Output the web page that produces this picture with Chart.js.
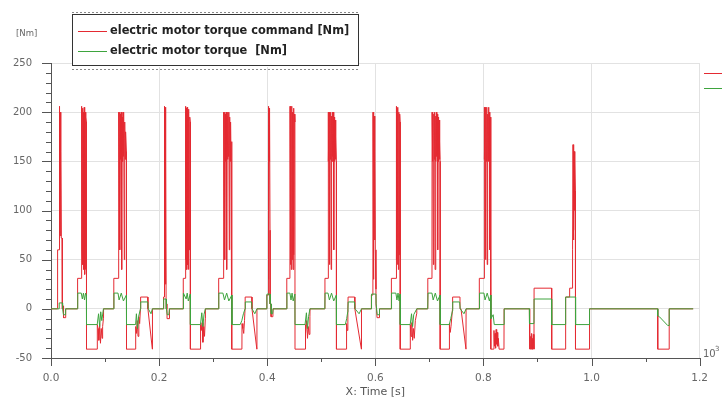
<!DOCTYPE html>
<html>
<head>
<meta charset="utf-8">
<script src="https://cdn.jsdelivr.net/npm/chart.js@4.4.0/dist/chart.umd.min.js"></script>
<style>
  html, body { margin: 0; padding: 0; background: #fff; }
  canvas { display: block; }
</style>
</head>
<body>
<canvas id="torque" width="722" height="405"></canvas>
<script>
// signal names and colours
const seriesNames = ['electric motor torque command [Nm]', 'electric motor torque  [Nm]'];
const seriesColors = ['rgb(228,42,50)', 'rgb(62,164,62)'];

// axis ranges
const timeRange = [0, 1.2];
const torqueRange = [-50, 250];

// [time s, torque Nm] : commanded torque
const cmdTrace = [
  [0,0],[0.012,0],[0.0122,60],[0.0148,60],[0.015,206],[0.0155,80],[0.016,204],[0.0166,75],[0.0172,200],
  [0.0178,74],[0.0184,160],[0.019,72],[0.0205,72],[0.021,0],[0.023,3],[0.0232,-9],[0.027,-9],[0.0272,0],
  [0.049,0],[0.0492,31],[0.0565,31],[0.0567,206],[0.0575,60],[0.0583,204],[0.0591,45],[0.0599,200],
  [0.0607,40],[0.0615,205],[0.0623,35],[0.0631,200],[0.0639,40],[0.0647,195],[0.0655,190],[0.0657,-41],
  [0.0855,-41],[0.0857,-16],[0.087,-20],[0.0885,-32],[0.09,-15],[0.0915,-35],[0.093,-20],[0.0945,-30],
  [0.0955,-18],[0.097,-10],[0.0972,0],
  [0.116,0],[0.1162,31],[0.125,31],[0.1252,200],[0.126,150],[0.1268,200],[0.1276,60],[0.1284,198],
  [0.1292,152],[0.13,200],[0.1308,40],[0.1316,195],[0.1324,150],[0.1332,200],[0.134,155],[0.1348,198],
  [0.1356,50],[0.1364,190],[0.1372,152],[0.138,180],[0.1395,160],[0.1397,-41],[0.1565,-41],[0.1567,-18],
  [0.158,-25],[0.1595,-12],[0.161,-28],[0.1625,-8],[0.164,-15],[0.1655,0],[0.1658,12],[0.179,12],
  [0.1793,0],[0.1875,-41],[0.1877,0],
  [0.208,0],[0.2082,12],[0.2095,12],[0.2097,206],[0.2103,20],[0.2109,205],[0.2115,25],[0.2121,200],
  [0.2127,150],[0.213,0],[0.2145,5],[0.2147,-10],[0.219,-10],[0.2192,0],
  [0.2445,0],[0.2447,31],[0.2485,31],[0.2487,206],[0.2495,50],[0.2503,204],[0.2511,40],[0.2519,205],
  [0.2527,45],[0.2535,200],[0.2543,40],[0.2551,203],[0.2559,60],[0.2567,195],[0.2577,190],[0.2579,-41],
  [0.2765,-41],[0.2767,-16],[0.278,-22],[0.2795,-14],[0.281,-34],[0.2825,-18],[0.284,-28],[0.2855,-10],
  [0.2857,0],
  [0.31,0],[0.3102,31],[0.3192,31],[0.3194,200],[0.3202,152],[0.321,200],[0.3218,50],[0.3226,198],
  [0.3234,150],[0.3242,200],[0.325,40],[0.3258,196],[0.3266,152],[0.3274,200],[0.3282,155],[0.329,200],
  [0.3298,60],[0.3306,195],[0.3314,150],[0.3322,190],[0.333,152],[0.3338,170],[0.3346,150],[0.3348,-41],
  [0.3532,-41],[0.3534,-15],[0.355,-20],[0.3565,-25],[0.358,-12],[0.359,0],[0.3592,12],[0.3716,12],
  [0.3718,0],[0.3808,-41],[0.381,0],
  [0.399,0],[0.3992,14],[0.402,14],[0.4022,206],[0.4028,30],[0.4034,204],[0.404,150],[0.4046,200],
  [0.4052,80],[0.4054,5],[0.407,5],[0.4072,-8],[0.4105,-8],[0.4107,0],
  [0.436,0],[0.4362,31],[0.442,31],[0.4422,206],[0.443,45],[0.4438,204],[0.4446,40],[0.4454,206],
  [0.4462,50],[0.447,200],[0.4478,40],[0.4486,204],[0.4494,55],[0.4502,198],[0.4512,190],[0.4514,-41],
  [0.47,-41],[0.4702,-16],[0.4715,-25],[0.473,-12],[0.4745,-30],[0.476,-18],[0.4775,-26],[0.479,-8],
  [0.4792,0],
  [0.5066,0],[0.5068,31],[0.5125,31],[0.5127,200],[0.5135,150],[0.5143,200],[0.5151,45],[0.5159,198],
  [0.5167,152],[0.5175,200],[0.5183,40],[0.5191,196],[0.5199,150],[0.5207,200],[0.5215,155],[0.5223,200],
  [0.5231,60],[0.5239,195],[0.5247,150],[0.5255,192],[0.5263,152],[0.5271,175],[0.5279,150],[0.5281,-41],
  [0.5466,-41],[0.5468,-15],[0.548,-22],[0.549,-12],[0.5494,0],[0.5496,12],[0.5619,12],[0.5621,0],
  [0.5742,-41],[0.5744,0],
  [0.5925,0],[0.5927,14],[0.5955,14],[0.5957,200],[0.5963,30],[0.5969,198],[0.5975,150],[0.5981,196],
  [0.5987,70],[0.5993,160],[0.5999,60],[0.6012,20],[0.6014,5],[0.603,5],[0.6032,-9],[0.6075,-9],[0.6077,0],
  [0.6295,0],[0.6297,31],[0.6385,31],[0.6387,206],[0.6395,50],[0.6403,204],[0.6411,45],[0.6419,205],
  [0.6427,40],[0.6435,200],[0.6443,55],[0.6451,198],[0.6459,190],[0.6461,-41],[0.6645,-41],[0.6647,-16],
  [0.666,-28],[0.6675,-14],[0.669,-32],[0.6705,-20],[0.672,-30],[0.674,-12],[0.6765,-5],[0.6767,0],
  [0.6969,0],[0.6971,31],[0.7048,31],[0.705,200],[0.7058,150],[0.7066,200],[0.7074,45],[0.7082,198],
  [0.709,152],[0.7098,200],[0.7106,40],[0.7114,196],[0.7122,150],[0.713,200],[0.7138,155],[0.7146,198],
  [0.7154,60],[0.7162,195],[0.717,150],[0.7178,192],[0.7186,152],[0.7194,170],[0.7198,150],[0.72,-41],
  [0.7369,-41],[0.7371,-15],[0.7385,-24],[0.74,-18],[0.7428,0],[0.743,12],[0.7566,12],[0.7568,0],
  [0.7585,0],[0.7677,-41],[0.7679,0],
  [0.7922,0],[0.7924,31],[0.8012,31],[0.8014,205],[0.8022,152],[0.803,205],[0.8038,50],[0.8046,200],
  [0.8054,150],[0.8062,205],[0.807,45],[0.8078,198],[0.8086,152],[0.8094,205],[0.8102,150],[0.811,200],
  [0.8118,60],[0.8126,195],[0.8134,150],[0.8137,120],[0.8139,-41],[0.819,-41],[0.8195,-22],[0.8205,-38],
  [0.8215,-25],[0.8225,-40],[0.8235,-21],[0.8245,-36],[0.8255,-24],[0.8265,-38],[0.8275,-30],[0.829,-41],
  [0.838,-41],[0.8382,0],
  [0.885,0],[0.8852,-41],[0.886,-25],[0.8868,-41],[0.8876,-28],[0.8884,-41],[0.8892,-25],[0.89,-41],
  [0.8908,-30],[0.8916,-41],[0.8924,-26],[0.8935,-41],[0.8937,21],[0.9261,21],[0.9263,-41],[0.9519,-41],
  [0.9521,12],[0.9593,12],[0.9595,21],[0.9641,21],[0.9643,60],[0.9655,60],[0.9657,167],[0.9663,70],
  [0.9669,165],[0.9675,80],[0.9681,160],[0.9687,100],[0.9693,150],[0.9701,120],[0.9703,-41],[0.9961,-41],
  [0.9963,0],
  [1.1223,0],[1.1225,-41],[1.1435,-41],[1.1437,0],[1.188,0]
];

// [time s, torque Nm] : delivered torque
const actTrace = [
  [0,0],[0.015,0],[0.0152,6],[0.021,6],[0.0215,0],[0.023,-6],[0.026,-6],[0.027,0],
  [0.049,0],[0.0495,16],[0.056,16],[0.058,10],[0.06,16],[0.062,9],[0.064,16],[0.0655,14],[0.0657,-16],
  [0.0855,-16],[0.088,-5],[0.09,-18],[0.092,-3],[0.094,-12],[0.097,0],
  [0.116,0],[0.1165,16],[0.124,16],[0.126,9],[0.13,16],[0.134,8],[0.1395,14],[0.1397,-16],[0.1565,-16],
  [0.158,-5],[0.16,-20],[0.162,-8],[0.1655,0],[0.166,7],[0.179,7],[0.18,0],[0.185,-5],[0.1875,0],
  [0.208,0],[0.2085,10],[0.213,10],[0.2135,0],[0.215,-6],[0.218,-6],[0.219,0],
  [0.2445,0],[0.245,16],[0.25,10],[0.252,16],[0.254,8],[0.2577,15],[0.2579,-16],[0.2765,-16],[0.279,-4],
  [0.281,-18],[0.283,-6],[0.2855,0],
  [0.31,0],[0.3105,16],[0.318,16],[0.321,9],[0.325,16],[0.329,8],[0.3346,14],[0.3348,-16],[0.35,-16],
  [0.353,-12],[0.356,-5],[0.359,0],[0.3595,7],[0.371,7],[0.372,0],[0.377,-5],[0.381,0],
  [0.399,0],[0.3995,15],[0.4053,15],[0.4055,5],[0.407,5],[0.4075,-5],[0.41,-5],[0.411,0],
  [0.436,0],[0.4365,16],[0.442,16],[0.444,9],[0.446,16],[0.448,8],[0.4512,15],[0.4514,-16],[0.47,-16],
  [0.4725,-4],[0.4745,-20],[0.4765,-8],[0.479,0],
  [0.5066,0],[0.507,16],[0.5125,16],[0.515,9],[0.519,16],[0.523,8],[0.5279,14],[0.5281,-16],[0.5445,-16],
  [0.547,-10],[0.549,-3],[0.5494,0],[0.5498,7],[0.5615,7],[0.5625,0],[0.57,-5],[0.5744,0],
  [0.5925,0],[0.593,15],[0.6012,15],[0.6015,5],[0.603,5],[0.6035,-6],[0.607,-6],[0.6077,0],
  [0.6295,0],[0.63,16],[0.638,16],[0.64,9],[0.642,16],[0.644,8],[0.6459,15],[0.6461,-16],[0.6645,-16],
  [0.667,-5],[0.669,-18],[0.671,-6],[0.6767,0],
  [0.6969,0],[0.6975,16],[0.7048,16],[0.707,9],[0.711,16],[0.715,8],[0.7198,14],[0.72,-16],[0.7369,-16],
  [0.7395,-10],[0.7428,-2],[0.7432,7],[0.756,7],[0.757,0],[0.764,-5],[0.7679,0],
  [0.7922,0],[0.7928,16],[0.801,16],[0.803,9],[0.807,16],[0.811,8],[0.8137,14],[0.8139,-10],[0.818,-6],
  [0.82,-16],[0.8382,-16],[0.8384,0],
  [0.885,0],[0.8852,-15],[0.8935,-15],[0.8937,10],[0.926,10],[0.9263,-16],[0.9519,-16],[0.9521,12],
  [0.9703,12],[0.9705,-16],[0.9961,-16],[0.9963,0],
  [1.1223,0],[1.1225,-7],[1.1255,-8],[1.141,-17],[1.1435,-17],[1.1437,0],[1.188,0]
];

const isMajor = (v, step) => Math.abs(v / step - Math.round(v / step)) < 1e-6;
const toPoints = trace => trace.map(([t, v]) => ({ x: t, y: v }));

// tick marks, legend box and the small extra labels
const plotDecor = {
  id: 'plotDecor',
  afterDraw(chart) {
    const { ctx, chartArea: a, scales: { x, y } } = chart;
    ctx.save();
    ctx.strokeStyle = '#555';
    ctx.lineWidth = 1;
    ctx.beginPath();
    y.ticks.forEach(t => {
      const py = Math.round(y.getPixelForValue(t.value)) + 0.5;
      const len = isMajor(t.value, 50) ? 9 : 5;
      ctx.moveTo(a.left - len, py);
      ctx.lineTo(a.left, py);
    });
    x.ticks.forEach(t => {
      const px = Math.round(x.getPixelForValue(t.value)) + 0.5;
      const len = isMajor(t.value, 0.2) ? 8 : 4;
      ctx.moveTo(px, a.bottom);
      ctx.lineTo(px, a.bottom + len);
    });
    ctx.stroke();

    // legend box
    ctx.fillStyle = '#fff';
    ctx.fillRect(72, 13, 287, 54);
    ctx.strokeStyle = '#333';
    ctx.strokeRect(72.5, 14.5, 286, 51);
    ctx.strokeStyle = '#888';
    ctx.setLineDash([2, 2]);
    ctx.beginPath();
    ctx.moveTo(72, 69.5); ctx.lineTo(360, 69.5);
    ctx.moveTo(72, 12.5); ctx.lineTo(360, 12.5);
    ctx.stroke();
    ctx.setLineDash([]);

    ctx.font = 'bold 11.4px "DejaVu Sans"';
    ctx.textBaseline = 'middle';
    ctx.textAlign = 'left';
    chart.data.datasets.forEach((ds, i) => {
      const ly = 31.5 + i * 20;
      ctx.strokeStyle = ds.borderColor;
      ctx.beginPath();
      ctx.moveTo(78, ly); ctx.lineTo(107, ly);
      ctx.stroke();
      ctx.fillStyle = '#222';
      ctx.fillText(ds.label, 110, ly);
      // short key lines at the right edge
      ctx.beginPath();
      ctx.moveTo(704, 73.5 + i * 15); ctx.lineTo(722, 73.5 + i * 15);
      ctx.stroke();
    });

    ctx.fillStyle = '#666';
    ctx.font = '8.5px "DejaVu Sans"';
    ctx.fillText('[Nm]', 16, 34);
    ctx.font = '10px "DejaVu Sans"';
    ctx.textBaseline = 'alphabetic';
    ctx.fillText('10', 703, 357);
    ctx.font = '7px "DejaVu Sans"';
    ctx.fillText('3', 715, 351);
    ctx.restore();
  }
};

new Chart(document.getElementById('torque'), {
  type: 'line',
  data: {
    datasets: [
      { label: seriesNames[0], data: toPoints(cmdTrace), borderColor: seriesColors[0], order: 2 },
      { label: seriesNames[1], data: toPoints(actTrace), borderColor: seriesColors[1], order: 1 }
    ]
  },
  options: {
    responsive: false,
    animation: false,
    devicePixelRatio: 1,
    parsing: false,
    layout: { padding: { top: 63, right: 21, bottom: 0, left: 0 } },
    elements: {
      point: { radius: 0 },
      line: { borderWidth: 1, tension: 0 }
    },
    plugins: { legend: { display: false }, tooltip: { enabled: false } },
    scales: {
      x: {
        type: 'linear',
        min: timeRange[0],
        max: timeRange[1],
        afterFit: s => { s.height = 47; },
        border: { color: '#555' },
        grid: {
          drawTicks: false,
          color: c => isMajor(c.tick.value, 0.2) ? '#e2e2e2' : 'rgba(0,0,0,0)'
        },
        ticks: {
          stepSize: 0.1,
          autoSkip: false,
          maxRotation: 0,
          padding: 14,
          color: '#666',
          font: { family: 'DejaVu Sans', size: 10.5 },
          callback: v => isMajor(v, 0.2) ? v.toFixed(1) : ''
        },
        title: {
          display: true,
          text: 'X: Time [s]',
          color: '#555',
          font: { family: 'DejaVu Sans', size: 11 },
          padding: { top: 0, bottom: 6 }
        }
      },
      y: {
        min: torqueRange[0],
        max: torqueRange[1],
        afterFit: s => { s.width = 51; },
        border: { color: '#555' },
        grid: {
          drawTicks: false,
          color: c => isMajor(c.tick.value, 50) ? '#e2e2e2' : 'rgba(0,0,0,0)'
        },
        ticks: {
          stepSize: 10,
          maxTicksLimit: 100,
          autoSkip: false,
          padding: 19,
          color: '#666',
          font: { family: 'DejaVu Sans', size: 10 },
          callback: v => isMajor(v, 50) ? String(v) : ''
        }
      }
    }
  },
  plugins: [plotDecor]
});
</script>
</body>
</html>
